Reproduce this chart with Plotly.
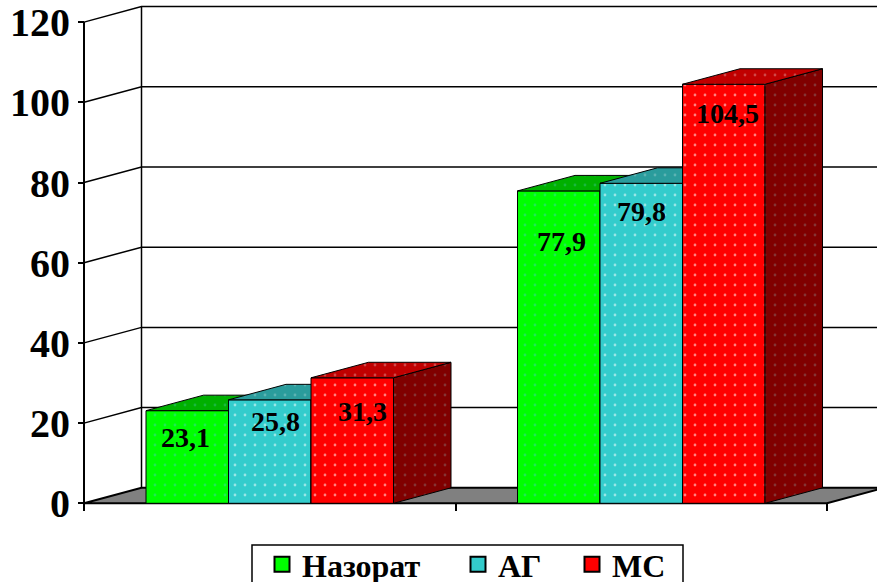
import plotly.graph_objects as go

# ---- data ----
series_names = ["Назорат", "АГ", "МС"]
nazorat = [23.1, 77.9]
ag = [25.8, 79.8]
ms = [31.3, 104.5]
y_ticks = [0, 20, 40, 60, 80, 100, 120]
label_texts = [["23,1", "77,9"], ["25,8", "79,8"], ["31,3", "104,5"]]

series_values = [nazorat, ag, ms]
n_groups = len(nazorat)

# ---- styles ----
front_colors = ["#00FF00", "#33CCCC", "#FF0000"]
front_dots = ["#3FD2A8", "#FFFFFF", "#FFFFFF"]
top_colors = ["#00B000", "#2A9C9C", "#C00000"]
top_dots = ["#33C080", "#8FCACA", "#E09090"]
side_colors = ["#008000", "#1F7373", "#800000"]
side_dots = ["#4A9A6A", "#6A9A9A", "#8A6A6A"]
# label nudges in pixels (dx, distance below bar top)
label_nudge = [[(-2, 27), (3, 51)], [(6, 22), (0, 28)], [(10, 34), (4, 29)]]
# legend entry left edges and legend box edges, in pixels
legend_px = [262, 458, 572]
legend_box_px = (252, 683, 545)

FONT = "Liberation Serif"
W, H = 877, 582
M_L, M_B = 80, 52
PX_PER_X = 371.5          # pixels per category
PX_PER_Y = 4.01           # pixels per value unit
ZERO_PX = 503.3           # pixel row of value 0
AXIS_PX = 84              # pixel column of the front value axis

plot_w = W - M_L
plot_h = H - M_B
x_min = -0.5 - (AXIS_PX - M_L) / PX_PER_X
x_max = x_min + plot_w / PX_PER_X
y_max = ZERO_PX / PX_PER_Y
y_min = -(plot_h - ZERO_PX) / PX_PER_Y

BAR_W = 82.5 / PX_PER_X
DX = 57.5 / PX_PER_X      # depth offset, horizontal
DY = 15.5 / PX_PER_Y      # depth offset, vertical

x_left = -0.5
x_right = n_groups - 0.5


def paper_x(px):
    return (px - M_L) / plot_w


def paper_y(py):
    return (plot_h - py) / plot_h


fig = go.Figure()


def poly(xs, ys, fill, dot, axis_id, lw=1.0):
    xa = "x" if axis_id == 1 else f"x{axis_id}"
    ya = "y" if axis_id == 1 else f"y{axis_id}"
    fig.add_trace(go.Scatter(
        x=xs + [xs[0]], y=ys + [ys[0]], mode="lines", fill="toself",
        fillcolor=fill,
        fillpattern=dict(shape=".", bgcolor=fill, fgcolor=dot, size=10, solidity=0.06)
        if dot else None,
        line=dict(color="black", width=lw), xaxis=xa, yaxis=ya,
        showlegend=False, hoverinfo="skip"))


def line(xs, ys, lw=1.5):
    fig.add_trace(go.Scatter(x=xs, y=ys, mode="lines",
                             line=dict(color="black", width=lw),
                             showlegend=False, hoverinfo="skip"))


# ---- walls and floor ----
poly([x_left, x_right, x_right + DX, x_left + DX], [0, 0, DY, DY], "#808080", None, 1, lw=2)
for t in y_ticks[1:]:
    line([x_left, x_left + DX, x_max], [t, t + DY, t + DY])
line([x_left + DX, x_left + DX], [DY, y_ticks[-1] + DY])
line([x_left, x_left], [0, y_ticks[-1]], lw=2)

# ---- bars: one overlaid layer per bar so nearer bars cover farther ones ----
layer = 1
annotations = []
for g in range(n_groups):
    for s, vals in enumerate(series_values):
        layer += 1
        v = vals[g]
        c = g + (s - (len(series_values) - 1) / 2) * BAR_W
        xl, xr = c - BAR_W / 2, c + BAR_W / 2
        fig.add_trace(go.Bar(
            x=[c], y=[v], width=[BAR_W], name=series_names[s], showlegend=False,
            marker=dict(color=front_colors[s], line=dict(color="black", width=1),
                        pattern=dict(shape=".", fillmode="overlay", bgcolor=front_colors[s],
                                     fgcolor=front_dots[s], size=10, solidity=0.06)),
            xaxis=f"x{layer}", yaxis=f"y{layer}", hoverinfo="skip"))
        poly([xr, xr, xr + DX, xr + DX], [0, v, v + DY, DY],
             side_colors[s], side_dots[s], layer)
        poly([xl, xr, xr + DX, xl + DX], [v, v, v + DY, v + DY],
             top_colors[s], top_dots[s], layer)
        ndx, ndy = label_nudge[s][g]
        annotations.append(dict(
            x=c, y=v, xref="x", yref="y", text=label_texts[s][g], showarrow=False,
            xshift=ndx, yshift=-ndy,
            font=dict(family=FONT, size=28, color="black", weight="bold")))

# ---- legend: one entry per series, each in its own legend so spacing can be set ----
legend_layout = {}
for s, name in enumerate(series_names):
    key = "legend" if s == 0 else f"legend{s + 1}"
    fig.add_trace(go.Scatter(
        x=[None], y=[None], mode="markers", name=name, legend=key.replace("legend", "legend"),
        marker=dict(symbol="square", size=15, color=front_colors[s],
                    line=dict(color="black", width=2)),
        hoverinfo="skip"))
    legend_layout[key] = dict(
        x=paper_x(legend_px[s]), xanchor="left", y=paper_y(537), yanchor="top",
        orientation="h", bgcolor="rgba(0,0,0,0)", borderwidth=0,
        font=dict(family=FONT, size=32, color="black", weight="bold"))

layout_axes = {}
for i in range(2, layer + 1):
    layout_axes[f"xaxis{i}"] = dict(overlaying="x", range=[x_min, x_max], visible=False,
                                    anchor=f"y{i}")
    layout_axes[f"yaxis{i}"] = dict(overlaying="y", range=[y_min, y_max], visible=False,
                                    anchor=f"x{i}")

fig.update_layout(
    width=W, height=H,
    margin=dict(l=M_L, r=0, t=0, b=M_B, autoexpand=False),
    paper_bgcolor="white", plot_bgcolor="white",
    barmode="overlay",
    xaxis=dict(range=[x_min, x_max], showgrid=False, zeroline=False, showline=False,
               tickvals=[x_left + k for k in range(n_groups + 1)], showticklabels=False,
               ticks="outside", ticklen=7, tickwidth=1.5, tickcolor="black",
               anchor="free", position=(plot_h - ZERO_PX) / plot_h),
    yaxis=dict(range=[y_min, y_max], showgrid=False, zeroline=False, showline=False,
               tickvals=y_ticks, ticks="outside", ticklen=6, tickwidth=1.5,
               tickcolor="black", anchor="free", position=(AXIS_PX - M_L) / plot_w,
               tickfont=dict(family=FONT, size=40, color="black", weight="bold")),
    shapes=[dict(type="rect", xref="paper", yref="paper",
                 x0=paper_x(legend_box_px[0]), x1=paper_x(legend_box_px[1]),
                 y0=paper_y(legend_box_px[2]), y1=paper_y(H + 20),
                 line=dict(color="black", width=1.5), fillcolor="white", layer="above")],
    annotations=annotations,
    **legend_layout,
    **layout_axes,
)

fig.write_html("out.html")
